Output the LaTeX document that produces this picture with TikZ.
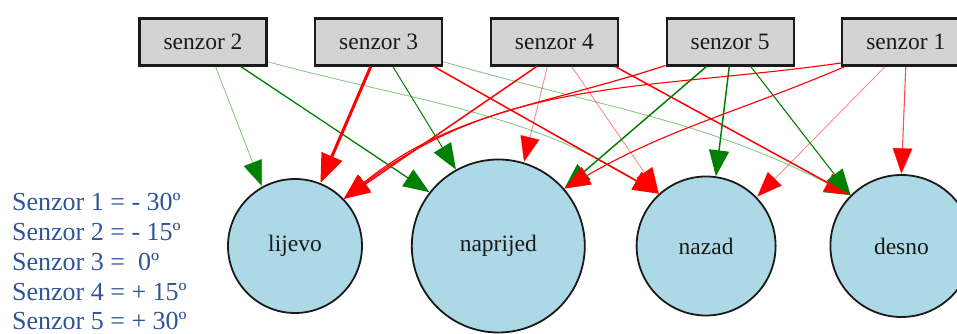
\documentclass[tikz,border=0pt]{standalone}
\usepackage{fontspec}
\setmainfont{Liberation Serif}
\usetikzlibrary{arrows.meta,positioning}
\definecolor{ink}{HTML}{1A1A1A}
\definecolor{gvgreen}{HTML}{008000}
\definecolor{gvred}{HTML}{FF0000}
\definecolor{boxgray}{HTML}{D3D3D3}
\definecolor{circfill}{HTML}{ADD8E6}
\definecolor{legendblue}{HTML}{2F5597}
\tikzset{
  sensor/.style={draw=ink,line width=2.2pt,fill=boxgray,minimum width=127pt,minimum height=47pt,inner sep=0pt,font=\fontsize{23.5}{27}\selectfont,text=ink},
  outcircle/.style={draw=ink,line width=1.8pt,fill=circfill,circle,inner sep=0pt,font=\fontsize{23.5}{27}\selectfont,text=ink},
  legendtxt/.style={anchor=base west,inner sep=0pt,text=legendblue,font=\fontsize{26}{30}\selectfont},
  wpos/.style={draw=gvgreen,line width=1.5pt,-{Triangle[length=26pt,width=20pt,color=gvgreen]}},
  wneg/.style={draw=gvred,line width=1.5pt,-{Triangle[length=26pt,width=20pt,color=gvred]}},
  faint/.style={line width=0.9pt,draw opacity=0.45},
  strong/.style={line width=3pt}
}
\begin{document}
\begin{tikzpicture}[x=1pt,y=1pt]
  \useasboundingbox (0,0) rectangle (957,334);
  % sensors
  \node[sensor] (s2) at (203,292) {senzor 2};
  \node[sensor, right=46.5pt of s2] (s3) {senzor 3};
  \node[sensor, right=46.5pt of s3] (s4) {senzor 4};
  \node[sensor, right=46.5pt of s4] (s5) {senzor 5};
  \node[sensor, right=46.5pt of s5] (s1) {senzor 1};
  % outputs
  \node[outcircle, minimum size=134pt] (lijevo) at (295,88) {lijevo};
  \node[outcircle, minimum size=173pt, right=48pt of lijevo] (naprijed) {naprijed};
  \node[outcircle, minimum size=139pt, right=50pt of naprijed] (nazad) {nazad};
  \node[outcircle, minimum size=142pt, right=53pt of nazad] (desno) {desno};
  % angles
  \foreach \i/\txt in {1/{= - 30º},2/{= - 15º},3/{=\ \ 0º},4/{= + 15º},5/{= + 30º}}
    \node[legendtxt] (leg\i) at (12,{123-29.75*(\i-1)}) {Senzor \i\ \txt};

  % senzor 2
  \draw[wpos,faint] (s2.-63) -- (lijevo.119);
  \draw[wpos,line width=1.3pt] (s2.-33) -- (naprijed.142);
  \draw[wpos,faint] (s2.-17) to[out=-15,in=149] (nazad.132);
  % senzor 3
  \draw[wneg,strong,-{Triangle[length=29pt,width=22pt,color=gvred]}] (s3.-108) -- (lijevo.68);
  \draw[wpos,line width=1pt] (s3.-60) -- (naprijed.119);
  \draw[wneg] (s3.-24) -- (nazad.132);
  \draw[wpos,faint] (s3.-17) to[out=-16,in=153] (desno.135);
  % senzor 4
  \draw[wneg] (s4.-126) -- (lijevo.44);
  \draw[wneg,faint] (s4.-106) -- (naprijed.73);
  \draw[wneg,faint] (s4.-55) -- (nazad.132);
  \draw[wneg] (s4.-22) -- (desno.135);
  % senzor 5
  \draw[wneg,line width=1.2pt] (s5.-160) to[out=198,in=39] (lijevo.44);
  \draw[wpos] (s5.-134) -- (naprijed.41);
  \draw[wpos] (s5.-92) -- (nazad.82);
  \draw[wpos,line width=1.1pt] (s5.-50) -- (desno.135);
  % senzor 1
  \draw[wneg,line width=1.1pt] (s1.-162) to[out=188,in=37] (lijevo.44);
  \draw[wneg,line width=1.1pt] (s1.-158) to[out=203,in=30] (naprijed.41);
  \draw[wneg,faint] (s1.-130) -- (nazad.44);
  \draw[wneg,line width=1.1pt,draw opacity=0.7] (s1.south) -- (desno.north);
\end{tikzpicture}
\end{document}
